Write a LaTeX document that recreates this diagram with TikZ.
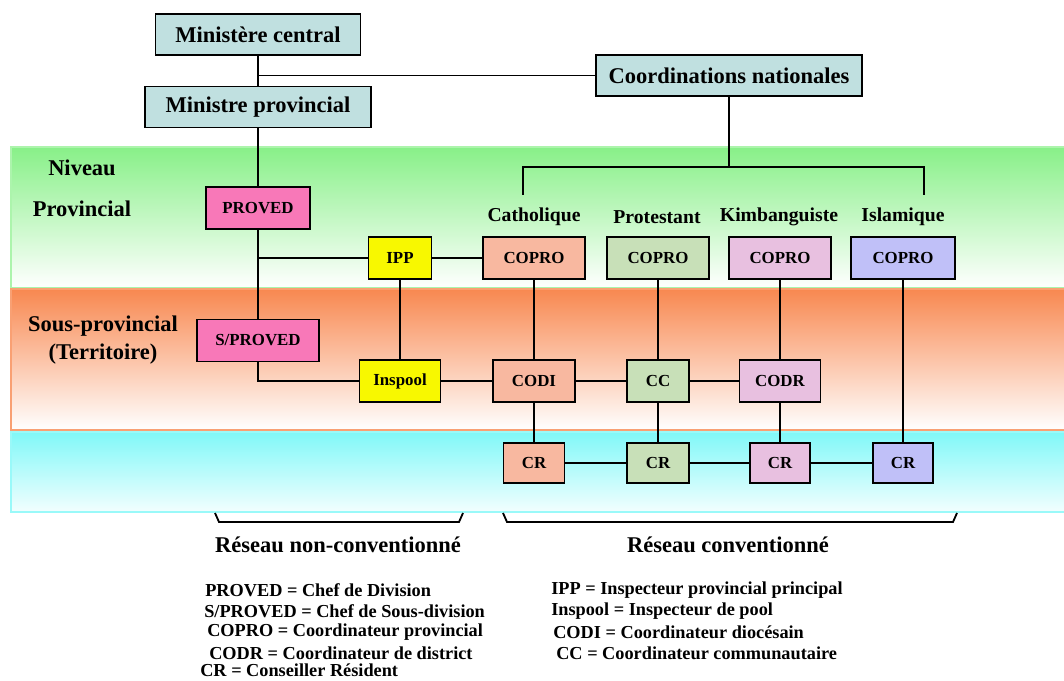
\documentclass[tikz,border=0pt]{standalone}
\usepackage{fontspec}
\setmainfont{Liberation Serif}
\usepackage{tikz}
\definecolor{bleu}{HTML}{C0E0E0}
\definecolor{rose}{HTML}{F878B8}
\definecolor{jaune}{HTML}{F8F800}
\definecolor{saumon}{HTML}{F8B8A0}
\definecolor{vertp}{HTML}{C8E0B8}
\definecolor{mauve}{HTML}{E8C0E0}
\definecolor{lavande}{HTML}{C0C0F8}
\definecolor{vhaut}{HTML}{88F088}
\definecolor{ohaut}{HTML}{F88850}
\definecolor{chaut}{HTML}{80F8F8}
\tikzset{
	boite/.style={draw, line width=1pt, inner sep=0pt, minimum height=1.05cm, font=\bfseries\fontsize{12}{14}\selectfont},
	titre/.style={boite, fill=bleu, minimum height=1.025cm, font=\bfseries\fontsize{16}{19}\selectfont},
	etiq/.style={font=\bfseries\fontsize{14}{17}\selectfont},
	niveau/.style={font=\bfseries\fontsize{16}{19}\selectfont},
	legende/.style={anchor=west, inner sep=0pt, font=\bfseries\fontsize{13}{15}\selectfont},
	lien/.style={line width=0.9pt},
	crochet/.style={line width=1.3pt}
}
\begin{document}
\begin{tikzpicture}[x=0.025cm, y=-0.025cm]
			\useasboundingbox (0,0) rectangle (1064,681);
			\shade[top color=vhaut, bottom color=white, draw=vhaut!70, line width=1pt] (11,147) rectangle (1070,288);
			\shade[top color=ohaut, bottom color=white, draw=ohaut!80, line width=1pt] (11,289) rectangle (1070,430);
			\shade[top color=chaut, bottom color=chaut!10, draw=chaut!80, line width=1pt] (11,432) rectangle (1070,512);
			\node[niveau] (niv) at (82,168) {Niveau};
			\node[niveau] (prov) at (82,209) {Provincial};
			\node[niveau] (sous) at (103,326) {Sous-provincial};
			\node[niveau] (terr) at (103,354) {(Territoire)};
			\node[titre, minimum width=5.125cm] (mc) at (258,34.5) {Ministère central};
			\node[titre, minimum width=6.65cm] (cn) at (729,75.5) {Coordinations nationales};
			\node[titre, minimum width=5.65cm] (mp) at (258,107) {Ministre provincial};
			\node[boite, fill=rose, minimum width=2.6cm] (proved) at (258,208) {PROVED};
			\node[boite, fill=jaune, minimum width=1.575cm] (ipp) at (400,258) {IPP};
			\node[boite, fill=rose, minimum width=3.05cm] (sproved) at (258,340.5) {S/PROVED};
			\node[boite, fill=jaune, minimum width=2.025cm] (inspool) at (400,381) {Inspool};
			\node[etiq] (cath) at (534,217) {Catholique};
			\node[etiq] (prot) at (657,217) {Protestant};
			\node[etiq] (kimb) at (779,217) {Kimbanguiste};
			\node[etiq] (isl) at (903,217) {Islamique};
			\node[boite, fill=saumon, minimum width=2.55cm] (copro-c) at (534,258) {COPRO};
			\node[boite, fill=vertp, minimum width=2.55cm] (copro-p) at (658,258) {COPRO};
			\node[boite, fill=mauve, minimum width=2.55cm] (copro-k) at (780,258) {COPRO};
			\node[boite, fill=lavande, minimum width=2.6cm] (copro-i) at (903,258) {COPRO};
			\node[boite, fill=saumon, minimum width=2.05cm] (codi) at (534,381) {CODI};
			\node[boite, fill=vertp, minimum width=1.55cm] (cc) at (658,381) {CC};
			\node[boite, fill=mauve, minimum width=2.025cm] (codr) at (780,381) {CODR};
			\node[boite, fill=saumon, minimum width=1.525cm, minimum height=1cm] (cr-c) at (534,463) {CR};
			\node[boite, fill=vertp, minimum width=1.55cm, minimum height=1cm] (cr-p) at (658,463) {CR};
			\node[boite, fill=mauve, minimum width=1.5cm, minimum height=1cm] (cr-k) at (780,463) {CR};
			\node[boite, fill=lavande, minimum width=1.5cm, minimum height=1cm] (cr-i) at (903,463) {CR};
			\coordinate (j-mc) at (mc.south |- cn.west);
			\coordinate (j-pv) at (mc.south |- ipp.west);
			\coordinate (j-cn) at (729,167);
			\coordinate (f-cath) at (523,195);
			\coordinate (f-isl) at (924,195);
			\path[lien]
			(mc) edge (mp)
			(j-mc) edge (cn.west)
			(mp) edge (proved)
			(proved) edge (sproved)
			(j-pv) edge (ipp)
			(ipp) edge (copro-c)
			edge (inspool)
			(inspool) edge (codi)
			(codi) edge (cc)
			(cc) edge (codr)
			(copro-c) edge (codi)
			(copro-p) edge (cc)
			(copro-k) edge (codr)
			(copro-i) edge (cr-i)
			(codi) edge (cr-c)
			(cc) edge (cr-p)
			(codr) edge (cr-k)
			(cr-c) edge (cr-p)
			(cr-p) edge (cr-k)
			(cr-k) edge (cr-i)
			(cn) edge (j-cn)
			;
			\draw[lien] (sproved.south) |- (inspool.west);
			\draw[lien] (f-cath) |- (j-cn) -| (f-isl);
			\coordinate (nc-g) at (215,513);
			\coordinate (nc-d) at (463,513);
			\coordinate (co-g) at (503,513);
			\coordinate (co-d) at (957,513);
			\draw[crochet] (nc-g) -- ([shift={(4,9)}]nc-g) -- ([shift={(-4,9)}]nc-d) -- (nc-d);
			\draw[crochet] (co-g) -- ([shift={(4,9)}]co-g) -- ([shift={(-4,9)}]co-d) -- (co-d);
			\node[etiq, font=\bfseries\fontsize{16}{19}\selectfont] (rnc) at (338,545) {Réseau non-conventionné};
			\node[etiq, font=\bfseries\fontsize{16}{19}\selectfont] (rc) at (728,545) {Réseau conventionné};
			\node[legende] (l-proved) at (205,590) {PROVED = Chef de Division};
			\node[legende] (l-sproved) at (204,611) {S/PROVED = Chef de Sous-division};
			\node[legende] (l-copro) at (207,632) {COPRO = Coordinateur provincial};
			\node[legende] (l-codr) at (209,653) {CODR = Coordinateur de district};
			\node[legende] (l-cr) at (200,670) {CR = Conseiller Résident};
			\node[legende] (l-ipp) at (551,590) {IPP = Inspecteur provincial principal};
			\node[legende] (l-inspool) at (551,611) {Inspool = Inspecteur de pool};
			\node[legende] (l-codi) at (553,632) {CODI = Coordinateur diocésain};
			\node[legende] (l-cc) at (556,653) {CC = Coordinateur communautaire};
		\end{tikzpicture}
\end{document}
